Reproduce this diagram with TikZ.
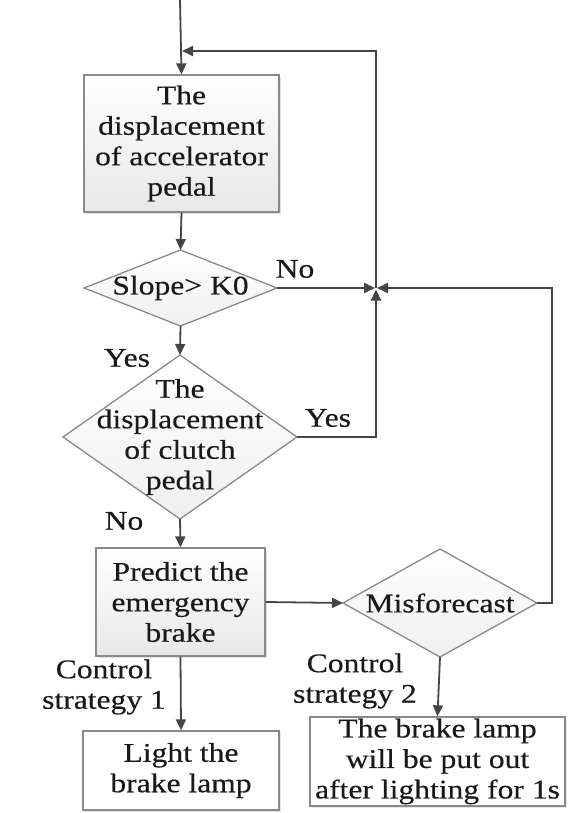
\documentclass[tikz,border=0pt]{standalone}
\usepackage{fontspec}
\setmainfont{Liberation Serif}[FakeStretch=1.17, FakeBold=0.35]
\usetikzlibrary{arrows.meta,shapes.geometric,shadows}
\definecolor{linec}{HTML}{454545}
\definecolor{edgec}{HTML}{8A8A8A}
\begin{document}
\begin{tikzpicture}[x=1pt,y=-1pt,
  txt/.style={font=\fontsize{27}{30.5}\selectfont, text=black!90},
  procbox/.style={draw=edgec, line width=1.3pt, rectangle, inner sep=0pt,
    top color=white, bottom color=gray!18,
    drop shadow={shadow xshift=2pt, shadow yshift=-2pt, opacity=0.25}},
  plainbox/.style={draw=edgec, line width=1.3pt, rectangle, inner sep=0pt, fill=white,
    drop shadow={shadow xshift=2pt, shadow yshift=-2pt, opacity=0.2}},
  dia/.style={draw=edgec, line width=1.3pt, diamond, inner sep=0pt, outer sep=0pt,
    top color=white, bottom color=gray!12},
  arr/.style={draw=linec, line width=1.8pt, -{Triangle[length=11pt,width=10pt]}},
  conn/.style={draw=linec, line width=1.8pt}]
\useasboundingbox (0,0) rectangle (567,813);
\fill[white] (0,0) rectangle (567,813);

% process boxes
\node[procbox, minimum width=195pt, minimum height=137pt] (b1) at (181.5,143.5) {};
\node[txt, align=center] at (b1) {The\\displacement\\of accelerator\\pedal};

\node[procbox, minimum width=169pt, minimum height=108pt] (b2) at (180.5,602) {};
\node[txt, align=center] at (b2) {Predict the\\emergency\\brake};

\node[plainbox, minimum width=196pt, minimum height=79pt] (b3) at (181,770.5) {};
\node[txt, align=center] at (b3) {Light the\\brake lamp};

\node[plainbox, minimum width=255pt, minimum height=89pt] (b4) at (437.5,761.5) {};
\node[txt, align=center] at (b4) {The brake lamp\\will be put out\\after lighting for 1s};

% decisions
\node[dia, minimum width=193pt, minimum height=76pt] (d1) at (180.5,288) {};
\node[txt] at (d1) {Slope> K0};

\node[dia, minimum width=234pt, minimum height=164pt] (d2) at (180,437) {};
\node[txt, align=center] at (d2) {The\\displacement\\of clutch\\pedal};

\node[dia, minimum width=194pt, minimum height=108pt] (dm) at (440,603) {};
\node[txt] at (dm) {Misforecast};

% routing points
\coordinate (start) at (180,0);
\coordinate (jn) at (376,288);
\coordinate (tin) at (182,51);
\coordinate (rr) at (552,603);

% connectors
\draw[arr] (start) -- (b1.north);
\draw[arr] (b1.south) -- (d1.north);
\draw[arr] (d1.south) -- (d2.north);
\draw[arr] (d2.south) -- (b2.north);
\draw[arr] (b2.south) -- (b3.north);
\draw[arr] (b2.east) -- (dm.west);
\draw[arr] (dm.south) -- (b4.north);
\draw[arr, shorten >=1pt] (d1.east) -- (jn);
\draw[arr, shorten >=1.5pt] (d2.east) -| (jn);
\draw[arr, shorten >=-1pt] (dm.east) -- (rr) |- ([xshift=2pt]jn);
\draw[arr] (jn) |- (tin);

% branch labels
\node[txt] (lno1) at (295,269) {No};
\node[txt] (lyes1) at (127,358) {Yes};
\node[txt] (lyes2) at (328,418) {Yes};
\node[txt] (lno2) at (124,521) {No};
\node[txt, align=center] (cs1) at (104,687) {Control\\strategy 1};
\node[txt, align=center] (cs2) at (355,681) {Control\\strategy 2};
\end{tikzpicture}
\end{document}
